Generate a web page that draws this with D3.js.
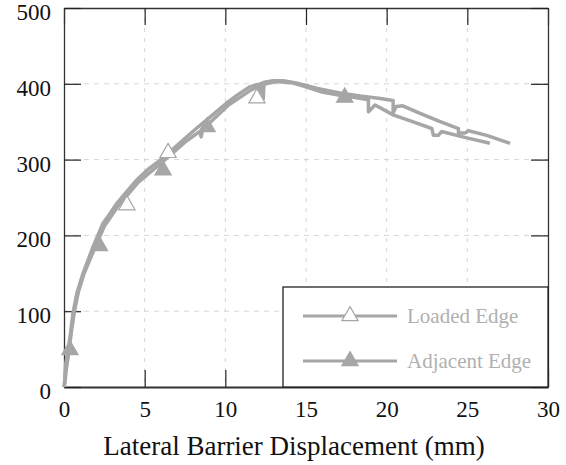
<!DOCTYPE html>
<html>
<head>
<meta charset="utf-8">
<script src="https://cdn.jsdelivr.net/npm/d3@7"></script>
<style>
  html, body { margin: 0; padding: 0; background: #fff; }
</style>
</head>
<body>
<svg id="chart" width="566" height="465" font-family="Liberation Serif"></svg>
<script>
// Lateral load (kN) versus barrier displacement (mm) at the two slab edges
const loadedX = [0, 0.05, 0.1, 0.25, 0.4, 0.56, 0.8, 1.18, 1.5, 1.8, 2.1, 2.42, 2.85, 3.3, 3.9, 4.5, 5.2, 5.95, 6.7, 7.4, 8.2, 9.05, 10.1, 10.8, 11.5, 12.0, 12.1, 12.15, 12.3, 12.35, 12.4, 12.96, 13.6, 14.4, 15.7, 17.1, 18.35, 19.5, 20.4, 20.4, 20.6, 21.0, 22.07, 23.2, 24.45, 24.45, 24.86, 25.07, 26.2, 27.65];
const loadedY = [0, 10, 30, 48, 70, 98, 124, 150, 168, 185, 200, 216, 229, 243, 258, 273, 287, 299, 313, 326, 341, 356, 375, 386, 396, 399, 385, 400, 401, 380, 402, 404, 404, 401, 394, 388, 384, 381, 378, 362, 370, 371, 361, 351, 341, 335, 335, 338, 332, 321.5];

const adjacentX = [0, 0.05, 0.15, 0.3, 0.45, 0.65, 0.9, 1.25, 1.9, 2.5, 3.4, 4.6, 6.05, 7.5, 8.4, 8.5, 8.6, 9.2, 10.2, 11.6, 12.5, 13.2, 14.2, 15.0, 16.0, 17.1, 18.35, 18.87, 18.87, 19.28, 20.4, 21.6, 22.8, 22.9, 23.2, 23.4, 24.9, 26.4];
const adjacentY = [0, 5, 25, 45, 72, 100, 126, 150, 183, 212, 240, 270, 296, 323, 337, 330, 340, 352, 372, 392, 400, 403, 401, 396, 389, 385, 381, 379, 363, 372, 359, 350, 341, 332, 332, 337, 329, 321.5];

// marker positions along each curve
const loadedMarkX = [3.9, 6.45, 11.96];
const loadedMarkY = [240, 309, 381];
const adjacentMarkX = [0.37, 2.2, 6.14, 8.87, 17.4];
const adjacentMarkY = [49, 186, 286, 343, 382];

const xTicks = [0, 5, 10, 15, 20, 25, 30];
const yTicks = [0, 100, 200, 300, 400, 500];
const seriesNames = ["Loaded Edge", "Adjacent Edge"];
const xTitle = "Lateral Barrier Displacement (mm)";

const serif = "Liberation Serif";
const svg = d3.select("#chart");
const plotL = 64, plotR = 548, plotT = 8, plotB = 387;
const x = d3.scaleLinear().domain([0, 30]).range([plotL, plotR]);
const y = d3.scaleLinear().domain([0, 500]).range([plotB, plotT]);

const lineColor = "#a6a6a6";
const gridColor = "#d6d6d6";

// grid
svg.append("g").selectAll("line").data(yTicks.slice(1, -1)).join("line")
  .attr("x1", plotL).attr("x2", plotR)
  .attr("y1", d => y(d)).attr("y2", d => y(d))
  .attr("stroke", gridColor).attr("stroke-width", 1).attr("stroke-dasharray", "5,5");
svg.append("g").selectAll("line").data(xTicks.slice(1, -1)).join("line")
  .attr("y1", plotT).attr("y2", plotB)
  .attr("x1", d => x(d)).attr("x2", d => x(d))
  .attr("stroke", gridColor).attr("stroke-width", 1).attr("stroke-dasharray", "4,6");

// axes with inward ticks on all four sides (inward ticks add no label spacing)
const tickLen = 17;
const axB = svg.append("g").attr("transform", `translate(0,${plotB})`)
  .call(d3.axisBottom(x).tickValues(xTicks).tickSizeInner(-tickLen).tickSizeOuter(0).tickPadding(14));
const axT = svg.append("g").attr("transform", `translate(0,${plotT})`)
  .call(d3.axisTop(x).tickValues(xTicks).tickSizeInner(-tickLen).tickSizeOuter(0).tickFormat(""));
const axL = svg.append("g").attr("transform", `translate(${plotL},0)`)
  .call(d3.axisLeft(y).tickValues(yTicks).tickSizeInner(-tickLen).tickSizeOuter(0).tickPadding(13));
const axR = svg.append("g").attr("transform", `translate(${plotR},0)`)
  .call(d3.axisRight(y).tickValues(yTicks).tickSizeInner(-tickLen).tickSizeOuter(0).tickFormat(""));

[axB, axT, axL, axR].forEach(a => {
  a.attr("font-family", serif);
  a.selectAll(".domain").attr("stroke", "#333").attr("stroke-width", 1.3);
  a.selectAll(".tick line").attr("stroke", "#222").attr("stroke-width", 1.2);
});
axB.select(".domain").attr("stroke-width", 2.2);
axB.selectAll(".tick text").style("font-family", serif).style("font-size", "23px").attr("fill", "#111");
axL.selectAll(".tick text").style("font-family", serif).style("font-size", "23px").attr("fill", "#111")
  .attr("dy", "0.5em");

// curves
const line = d3.line().x(d => x(d[0])).y(d => y(d[1]));
const loadedPts = loadedX.map((v, i) => [v, loadedY[i]]);
const adjacentPts = adjacentX.map((v, i) => [v, adjacentY[i]]);
[loadedPts, adjacentPts].forEach(pts => {
  svg.append("path").datum(pts).attr("d", line)
    .attr("fill", "none").attr("stroke", lineColor).attr("stroke-width", 3.5)
    .attr("stroke-linejoin", "round");
});

const tri = d3.symbol().type(d3.symbolTriangle).size(115);
svg.append("g").selectAll("path").data(loadedMarkX.map((v, i) => [v, loadedMarkY[i]])).join("path")
  .attr("d", tri).attr("transform", d => `translate(${x(d[0])},${y(d[1])})`)
  .attr("fill", "#fff").attr("stroke", lineColor).attr("stroke-width", 1.2);
svg.append("g").selectAll("path").data(adjacentMarkX.map((v, i) => [v, adjacentMarkY[i]])).join("path")
  .attr("d", tri).attr("transform", d => `translate(${x(d[0])},${y(d[1])})`)
  .attr("fill", lineColor).attr("stroke", lineColor).attr("stroke-width", 1.2);

// legend
const lg = svg.append("g");
lg.append("rect").attr("x", 283).attr("y", 287).attr("width", plotR - 283).attr("height", plotB - 287)
  .attr("fill", "#fff").attr("stroke", "#222").attr("stroke-width", 1.3);
seriesNames.forEach((name, i) => {
  const ly = 316 + i * 45;
  lg.append("line").attr("x1", 303).attr("x2", 397).attr("y1", ly).attr("y2", ly)
    .attr("stroke", lineColor).attr("stroke-width", 3);
  lg.append("path").attr("d", tri).attr("transform", `translate(350,${ly})`)
    .attr("fill", i === 0 ? "#fff" : lineColor).attr("stroke", lineColor).attr("stroke-width", 1.2);
  lg.append("text").attr("x", 407).attr("y", ly + 7)
    .style("font-family", serif).style("font-size", "21px")
    .attr("fill", "#b0b0b0").text(name);
});

// x-axis title
svg.append("text").attr("x", 294).attr("y", 455).attr("text-anchor", "middle")
  .style("font-family", serif).style("font-size", "27px")
  .attr("fill", "#111").text(xTitle);
</script>
</body>
</html>
